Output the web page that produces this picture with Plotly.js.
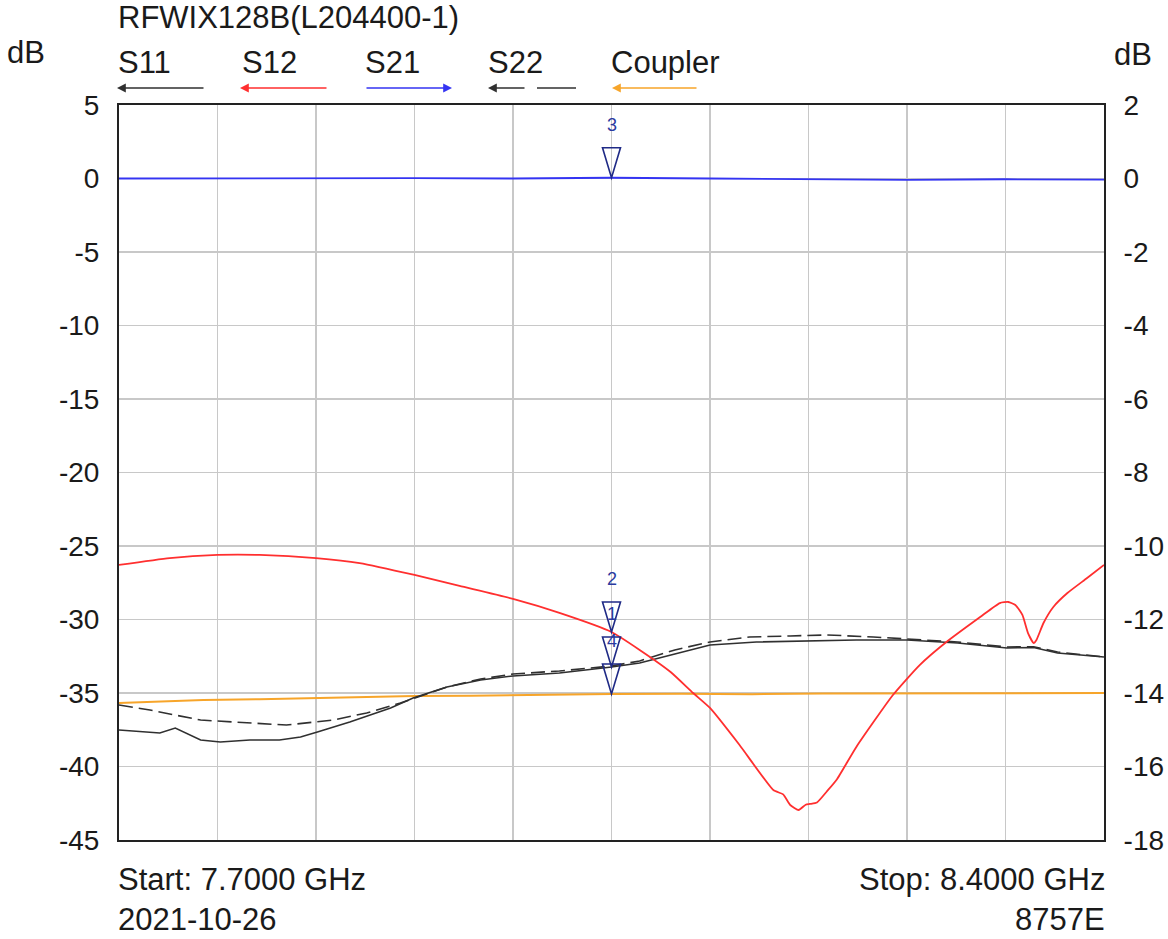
<!DOCTYPE html>
<html>
<head>
<meta charset="utf-8">
<script src="https://cdn.plot.ly/plotly-3.0.1.min.js"></script>
<style>html,body{margin:0;padding:0;background:#fff;}#chart{width:1168px;height:939px;}</style>
</head>
<body>
<div id="chart"></div>
<script>
// ---- data (frequency in GHz, level in dB) ----
var s12Freq = [7.700,7.736,7.770,7.800,7.840,7.871,7.910,7.942,7.980,8.013,8.050,8.070,8.092,8.108,8.120,8.141,8.165,8.172,8.177,8.183,8.188,8.191,8.196,8.203,8.210,8.224,8.250,8.269,8.288,8.312,8.326,8.332,8.337,8.342,8.346,8.350,8.352,8.357,8.364,8.374,8.388,8.400];
var s12Val  = [-26.29,-25.82,-25.61,-25.61,-25.82,-26.16,-26.97,-27.72,-28.60,-29.55,-30.85,-32.07,-33.57,-35.00,-36.02,-38.54,-41.60,-41.90,-42.62,-42.96,-42.60,-42.55,-42.45,-41.70,-40.90,-38.67,-35.14,-33.10,-31.53,-29.83,-28.88,-28.81,-29.01,-29.69,-30.92,-31.60,-31.39,-30.24,-29.15,-28.20,-27.18,-26.29];

var s11Freq = [7.700,7.715,7.729,7.740,7.747,7.758,7.772,7.793,7.814,7.829,7.841,7.864,7.893,7.909,7.933,7.957,7.980,8.013,8.050,8.070,8.095,8.120,8.153,8.189,8.224,8.260,8.296,8.331,8.350,8.367,8.400];
var s11Val  = [-37.52,-37.65,-37.72,-37.38,-37.70,-38.20,-38.33,-38.20,-38.20,-37.99,-37.65,-36.97,-36.02,-35.34,-34.59,-34.11,-33.84,-33.64,-33.23,-32.96,-32.35,-31.73,-31.53,-31.46,-31.39,-31.39,-31.60,-31.94,-31.90,-32.28,-32.55];

var s22Freq = [7.700,7.722,7.758,7.793,7.819,7.852,7.876,7.900,7.933,7.957,7.980,8.013,8.050,8.070,8.095,8.120,8.148,8.177,8.203,8.236,8.260,8.296,8.331,8.350,8.367,8.400];
var s22Val  = [-35.82,-36.16,-36.84,-37.04,-37.18,-36.84,-36.36,-35.68,-34.59,-34.05,-33.71,-33.50,-33.16,-32.82,-32.07,-31.53,-31.19,-31.12,-31.05,-31.19,-31.33,-31.53,-31.87,-31.85,-32.21,-32.55];

var couplerFreq = [7.700,7.730,7.760,7.800,7.840,7.880,7.910,7.950,7.980,8.020,8.050,8.100,8.150,8.200,8.250,8.300,8.350,8.400];
var couplerVal  = [-35.68,-35.58,-35.48,-35.42,-35.34,-35.28,-35.20,-35.18,-35.14,-35.10,-35.07,-35.05,-35.08,-35.04,-35.03,-35.05,-35.01,-35.00];

var s21Freq = [7.700,7.770,7.840,7.910,7.980,8.050,8.120,8.190,8.260,8.330,8.400];
var s21Val  = [0.00,0.01,0.00,0.01,0.00,0.02,0.00,-0.02,-0.04,-0.02,-0.03];

var leftTicks  = [5,0,-5,-10,-15,-20,-25,-30,-35,-40,-45];
var rightTicks = [2,0,-2,-4,-6,-8,-10,-12,-14,-16,-18];

var markerFreq = 8.05;
var markerS21 = 0.02;
var markerLeft = [-30.85, -33.23, -35.07];   // S12, S11, Coupler
var markerLeftLabels = ['2', '1', '4'];

var titleText = 'RFWIX128B(L204400-1)';
var legendNames = ['S11','S12','S21','S22','Coupler'];
var startText = 'Start: 7.7000 GHz';
var stopText = 'Stop: 8.4000 GHz';
var dateText = '2021-10-26';
var modelText = '8757E';

// ---- styling ----
var FONT = 'Liberation Sans, Arial, sans-serif';
var FS = 28;      // tick labels
var FA = 31;      // free text
var TXT = '#1a1a1a';
var C_BLACK = '#303030', C_RED = '#ff2f2f', C_BLUE = '#3434f2', C_ORANGE = '#f7a52a';
var MK = '#1f2a86';

var traces = [
  {x: couplerFreq, y: couplerVal, mode:'lines', line:{color:C_ORANGE, width:2}, yaxis:'y'},
  {x: s22Freq, y: s22Val, mode:'lines', line:{color:C_BLACK, width:1.6, dash:'14px,6px'}, yaxis:'y'},
  {x: s11Freq, y: s11Val, mode:'lines', line:{color:C_BLACK, width:1.6}, yaxis:'y'},
  {x: s12Freq, y: s12Val, mode:'lines', line:{color:C_RED, width:1.8, shape:'spline', smoothing:0.5}, yaxis:'y'},
  {x: s21Freq, y: s21Val, mode:'lines', line:{color:C_BLUE, width:1.8}, yaxis:'y2'}
];

// plot area in pixels
var L = 119, R = 1104, T = 105, B = 840;
function px(xp){ return (xp - L) / (R - L); }
function py(yp){ return (B - yp) / (B - T); }

var annotations = [];
function txt(text, x, y, xa){
  annotations.push({text:text, xref:'paper', yref:'paper', x:px(x), y:py(y), xanchor:xa||'left', yanchor:'middle',
    showarrow:false, font:{family:FONT, size:FA, color:TXT}});
}
txt(titleText, 116, 18);
txt('dB', 5, 52);
txt('dB', 1112, 54);
var legX = [116, 240, 363, 486, 609];
legendNames.forEach(function(n,i){ txt(n, legX[i], 63); });
txt(startText, 116, 879);
txt(stopText, 1107, 879, 'right');
txt(dateText, 116, 920);
txt(modelText, 1107, 920, 'right');

// legend arrows
function arrow(headX, tailX, color){
  annotations.push({text:'', xref:'paper', yref:'paper', x:px(headX), y:py(88), ax:(tailX-headX), ay:0,
    axref:'pixel', ayref:'pixel', showarrow:true, arrowhead:2, arrowsize:1.1, arrowwidth:1.6, arrowcolor:color});
}
arrow(117, 205, C_BLACK);
arrow(240, 328, C_RED);
arrow(452, 365, C_BLUE);
arrow(488, 526, C_BLACK);
arrow(612, 698, C_ORANGE);

var shapes = [
  {type:'line', xref:'paper', yref:'paper', x0:px(537), x1:px(576), y0:py(88), y1:py(88), line:{color:C_BLACK, width:1.6}}
];

// marker triangles
function tri(yref, yv){
  shapes.push({type:'path', xref:'x', yref:yref, xsizemode:'pixel', ysizemode:'pixel', xanchor:markerFreq, yanchor:yv,
    path:'M-9,30 L9,30 L0,0 Z', line:{color:MK, width:1.6}, fillcolor:'rgba(0,0,0,0)'});
}
function mlabel(yref, yv, t){
  annotations.push({text:t, xref:'x', yref:yref, x:markerFreq, y:yv, yshift:53, showarrow:false,
    xanchor:'center', yanchor:'middle', font:{family:FONT, size:18, color:'#2a3aa0'}});
}
tri('y2', markerS21); mlabel('y2', markerS21, '3');
markerLeft.forEach(function(v,i){ tri('y', v); mlabel('y', v, markerLeftLabels[i]); });

var layout = {
  width:1168, height:939,
  margin:{l:L, r:1168-R, t:T, b:939-B, pad:0},
  paper_bgcolor:'#fff', plot_bgcolor:'#fff',
  showlegend:false,
  font:{family:FONT, size:FS, color:TXT},
  xaxis:{range:[7.7,8.4], tick0:7.7, dtick:0.07, showticklabels:false, ticks:'',
    showgrid:true, gridcolor:'#c8c8c8', gridwidth:1.6, zeroline:false,
    showline:true, linecolor:'#222', linewidth:2, mirror:true, fixedrange:true},
  yaxis:{range:[-45,5], tickmode:'array', tickvals:leftTicks, ticktext:leftTicks.map(String), ticks:'',
    ticklabelstandoff:12,
    showgrid:true, gridcolor:'#c8c8c8', gridwidth:1.6, zeroline:false,
    showline:true, linecolor:'#222', linewidth:2, mirror:true, fixedrange:true,
    tickfont:{family:FONT, size:FS, color:TXT}},
  yaxis2:{range:[-18,2], overlaying:'y', side:'right', tickmode:'array', tickvals:rightTicks, ticktext:rightTicks.map(String),
    ticks:'', ticklabelstandoff:12, showgrid:false, zeroline:false, showline:true, linecolor:'#222', linewidth:2, fixedrange:true,
    tickfont:{family:FONT, size:FS, color:TXT}},
  annotations:annotations,
  shapes:shapes
};

Plotly.newPlot('chart', traces, layout, {staticPlot:true, displayModeBar:false});
</script>
</body>
</html>
